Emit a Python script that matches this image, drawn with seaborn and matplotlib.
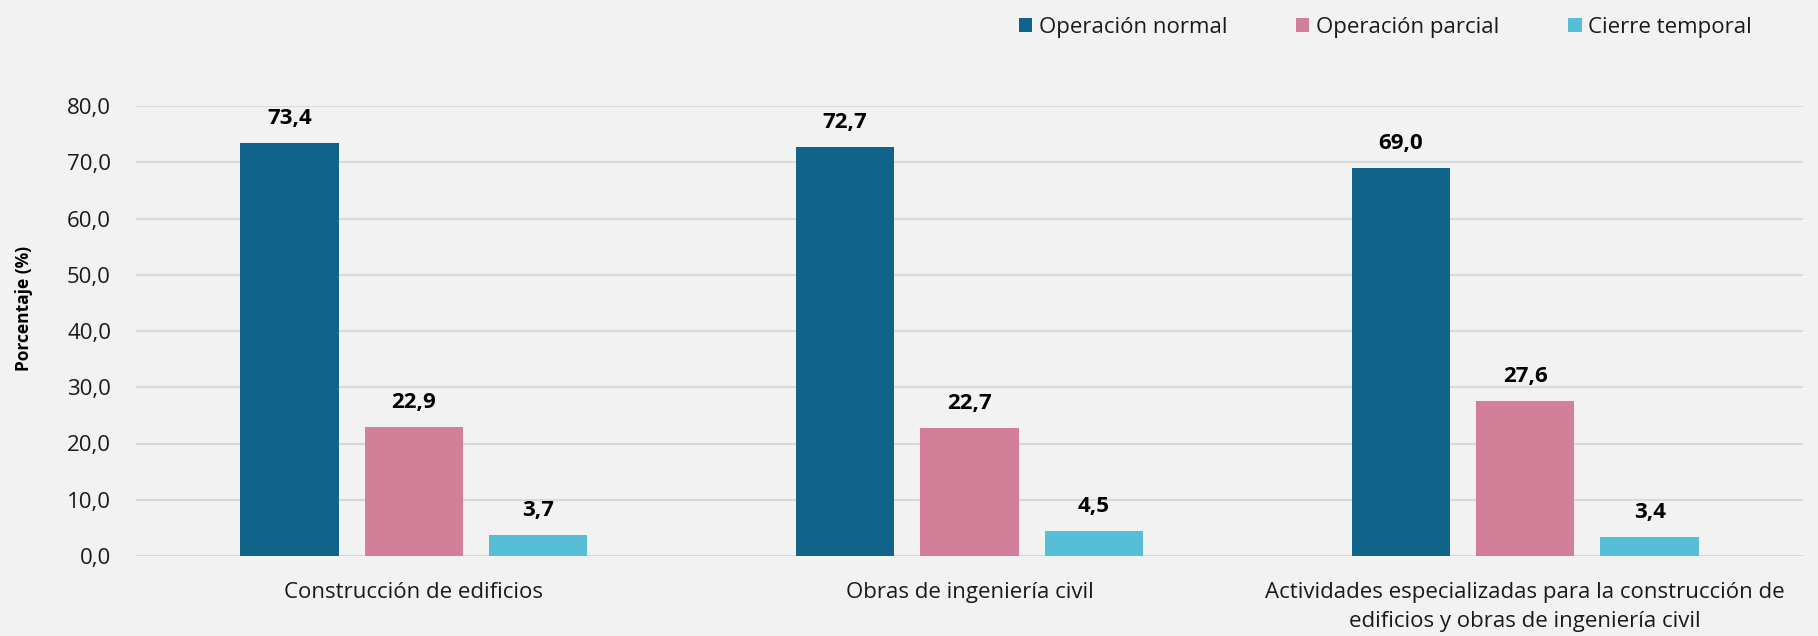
import pandas as pd
import matplotlib.pyplot as plt
import seaborn as sb

# Datos
categorias = ["Construcción de edificios",
              "Obras de ingeniería civil",
              "Actividades especializadas para la construcción de\nedificios y obras de ingeniería civil"]
series = ["Operación normal", "Operación parcial", "Cierre temporal"]
normal = [73.4, 72.7, 69.0]
parcial = [22.9, 22.7, 27.6]
cierre = [3.7, 4.5, 3.4]

colores = ["#106389", "#d47f99", "#56bfd6"]
fondo = "#f2f2f2"
texto = "#1a1a1a"

df = pd.DataFrame({"categoria": categorias * 3,
                   "serie": [s for s in series for _ in categorias],
                   "valor": normal + parcial + cierre})

sb.set_style("white")
plt.rcParams['font.family'] = ['Open Sans', 'DejaVu Sans']

fig = plt.figure(figsize=(18.18, 6.36), dpi=100, facecolor=fondo)
ax = fig.add_axes([136/1818, 1 - 556/636, 1667/1818, 450/636])
ax.set_facecolor(fondo)

sb.barplot(data=df, x="categoria", y="valor", hue="serie",
           hue_order=series, order=categorias, palette=colores,
           width=0.672, gap=0.21, saturation=1, linewidth=0,
           legend=True, ax=ax)

for cont in ax.containers:
    labels = [f"{v:.1f}".replace(".", ",") for v in cont.datavalues]
    ax.bar_label(cont, labels=labels, padding=10, fontsize=16,
                 fontweight="bold", color="black", clip_on=False)

ax.set_ylim(0, 80)
ax.set_xlim(-0.5, 2.5)
ax.set_yticks(range(0, 81, 10))
ax.set_yticklabels([f"{v:.1f}".replace(".", ",") for v in range(0, 81, 10)],
                   fontsize=16)
ax.tick_params(axis="x", labelsize=16, length=0, pad=19, labelcolor=texto)
ax.tick_params(axis="y", length=0, pad=18, labelcolor=texto)
for t in ax.get_xticklabels():
    t.set_linespacing(1.45)
ax.grid(axis="y", color="#d9d9d9", linewidth=1.5)
ax.set_axisbelow(True)
for s in ax.spines.values():
    s.set_visible(False)

ax.set_xlabel("")
ax.set_ylabel("Porcentaje (%)", fontsize=12.5, fontweight="bold", color="black")
ax.yaxis.set_label_coords(-0.062, 0.55)

h, l = ax.get_legend_handles_labels()
leg = ax.legend(h, l, loc="upper right", bbox_to_anchor=(1772/1818, 1.005),
                bbox_transform=fig.transFigure, ncol=3, frameon=False,
                fontsize=16, handlelength=0.6, handleheight=0.6,
                handletextpad=0.3, columnspacing=3.1)
for t in leg.get_texts():
    t.set_color(texto)

plt.savefig("out.png", dpi=100, facecolor=fondo)
